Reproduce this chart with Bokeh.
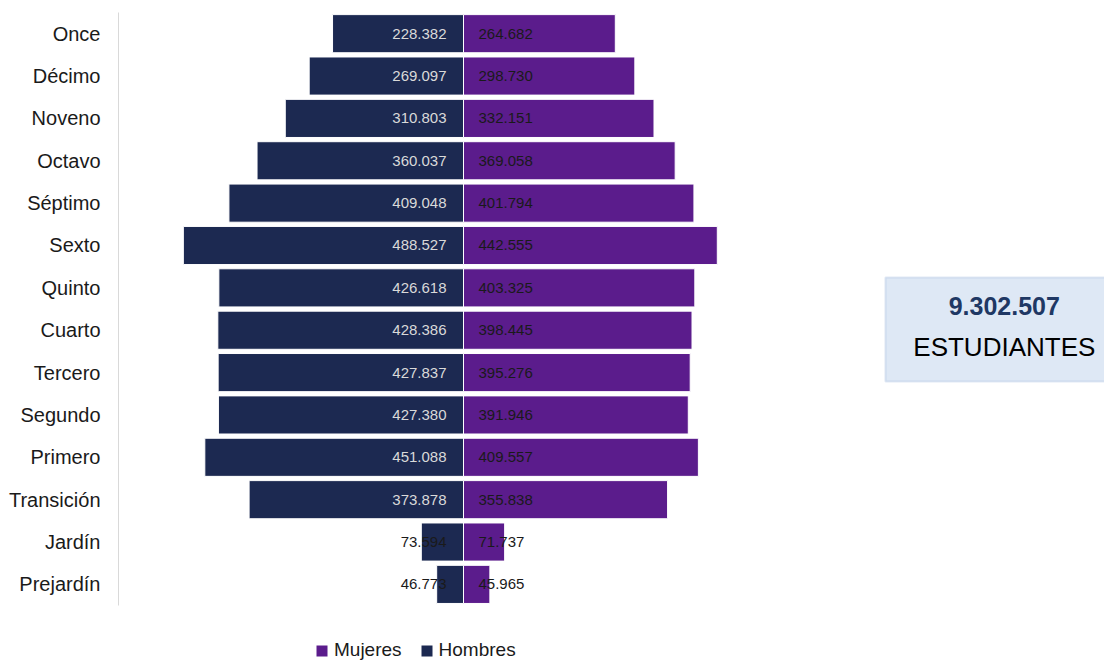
from bokeh.plotting import figure
from bokeh.models import (ColumnDataSource, Range1d, FixedTicker, Legend,
                          LegendItem, BoxAnnotation, Label)
from bokeh.core.properties import value
from bokeh.embed import file_html
from bokeh.resources import INLINE

# Data (top to bottom as shown)
grados = ["Once", "Décimo", "Noveno", "Octavo", "Séptimo", "Sexto", "Quinto",
          "Cuarto", "Tercero", "Segundo", "Primero", "Transición", "Jardín",
          "Prejardín"]
hombres = [228382, 269097, 310803, 360037, 409048, 488527, 426618,
           428386, 427837, 427380, 451088, 373878, 73594, 46773]
mujeres = [264682, 298730, 332151, 369058, 401794, 442555, 403325,
           398445, 395276, 391946, 409557, 355838, 71737, 45965]

NAVY = "#1c2951"
PURPLE = "#5b1c8c"
FONT = "Liberation Sans"


def fmt(v):
    return f"{v:,}".replace(",", ".")


total = sum(hombres) + sum(mujeres)
n = len(grados)
pos = [n - 1 - i for i in range(n)]  # top category highest

src = ColumnDataSource(dict(
    y=pos,
    hl=[-v for v in hombres],
    m=mujeres,
    hlab=[fmt(v) for v in hombres],
    mlab=[fmt(v) for v in mujeres],
    hcol=["#d9d9d9" if v > 150000 else "#1a1a1a" for v in hombres],
))

p = figure(y_range=Range1d(-1.82, n - 0.5),
           x_range=(-601600, 1117700),
           width=1104, height=661, output_backend="svg",
           toolbar_location=None,
           min_border_left=118, min_border_right=0,
           min_border_top=12, min_border_bottom=0)

p.xaxis.visible = False
p.xgrid.grid_line_color = None
p.ygrid.grid_line_color = None
p.outline_line_color = None
p.yaxis.ticker = FixedTicker(ticks=pos)
p.yaxis.major_label_overrides = {y: g for y, g in zip(pos, grados)}
p.yaxis.bounds = (-0.5, n - 0.5)
p.yaxis.major_tick_line_color = None
p.yaxis.minor_tick_line_color = None
p.yaxis.axis_line_color = "#d9d9d9"
p.yaxis.major_label_text_font = FONT
p.yaxis.major_label_text_font_size = "20px"
p.yaxis.major_label_text_color = "#1a1a1a"
p.yaxis.major_label_standoff = 12

rh = p.hbar(y="y", left="hl", right=0, height=0.9, source=src,
            fill_color=NAVY, line_color="white", line_width=1)
rm = p.hbar(y="y", left=0, right="m", height=0.9, source=src,
            fill_color=PURPLE, line_color="white", line_width=1)

p.text(x=0, y="y", text="hlab", x_offset=-17, text_align="right",
       text_baseline="middle", text_font=value(FONT), text_font_size="15px",
       text_color="hcol", source=src)
p.text(x=0, y="y", text="mlab", x_offset=15, text_align="left",
       text_baseline="middle", text_font=value(FONT), text_font_size="15px",
       text_color="#1a1a1a", source=src)

box = BoxAnnotation(left=735800, right=1140000, bottom=4.789, top=7.244,
                    fill_color="#dee8f5", fill_alpha=1,
                    line_color="#9db7da", line_width=2)
p.add_layout(box)
p.add_layout(Label(x=943000, y=6.56, text=fmt(total), text_align="center",
                   text_baseline="middle", text_font=FONT,
                   text_font_style="bold", text_font_size="25px",
                   text_color="#1f3864"))
p.add_layout(Label(x=943000, y=5.615, text="ESTUDIANTES", text_align="center",
                   text_baseline="middle", text_font=FONT,
                   text_font_size="26px", text_color="#000000"))

legend = Legend(items=[LegendItem(label="Mujeres", renderers=[rm]),
                       LegendItem(label="Hombres", renderers=[rh])],
                orientation="horizontal", location=(196, 0),
                label_text_font=FONT, label_text_font_size="19px",
                label_text_color="#1a1a1a",
                glyph_width=15, glyph_height=15, spacing=17,
                label_standoff=5, border_line_color=None,
                background_fill_alpha=0, padding=0, margin=0)
p.add_layout(legend, "center")

open("out.html", "w").write(file_html(p, INLINE))
